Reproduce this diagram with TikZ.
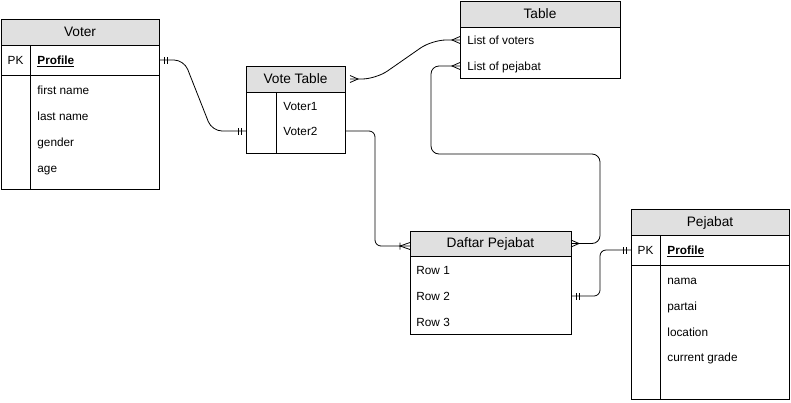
\documentclass[tikz,border=0pt]{standalone}
\usepackage{fontspec}
\setmainfont{Liberation Sans}
\usepackage{tikz}
\usetikzlibrary{calc,decorations.markings}
\usepackage{xcolor}
\definecolor{hdrgray}{HTML}{E0E0E0}

\tikzset{
  hdr/.style={draw, fill=hdrgray, anchor=north west, inner sep=0pt, outer sep=0pt,
    text height=10pt, text depth=1.5pt, font=\fontsize{13.7}{16}\selectfont},
  tblbody/.style={draw, anchor=north west, inner sep=0pt, outer sep=0pt},
  row/.style={anchor=west, inner sep=0pt, text height=11pt, text depth=2.5pt,
    font=\fontsize{11.8}{14}\selectfont},
  pk/.style={row, anchor=center},
  link/.style={line width=0.8pt, rounded corners=6pt},
  mk/.style={line width=0.8pt, sharp corners},
  one at start/.style={postaction={decorate,decoration={markings,
    mark=at position 5pt with {\draw[mk] (0,-3.5pt) -- (0,3.5pt);},
    mark=at position 8pt with {\draw[mk] (0,-3.5pt) -- (0,3.5pt);}}}},
  one at end/.style={postaction={decorate,decoration={markings,
    mark=at position -5pt with {\draw[mk] (0,-3.5pt) -- (0,3.5pt);},
    mark=at position -8pt with {\draw[mk] (0,-3.5pt) -- (0,3.5pt);}}}},
  many at start/.style={postaction={decorate,decoration={markings,
    mark=at position 8pt with {\draw[mk] (-8pt,-3.5pt) -- (0,0) -- (-8pt,3.5pt);}}}},
  many at end/.style={postaction={decorate,decoration={markings,
    mark=at position -8pt with {\draw[mk] (8pt,-3.5pt) -- (0,0) -- (8pt,3.5pt);}}}},
  onemany at end/.style={postaction={decorate,decoration={markings,
    mark=at position -10pt with {\draw[mk] (10pt,-3.5pt) -- (0,0) -- (10pt,3.5pt)
      (0,-3.5pt) -- (0,3.5pt);}}}},
}

\begin{document}
\begin{tikzpicture}[x=1pt,y=-1pt,line width=0.8pt]
  \useasboundingbox (0,0) rectangle (791,402);

  % Voter
  \node[hdr, minimum width=158pt, minimum height=26pt] (voter) at (1,19) {Voter};
  \node[tblbody, minimum width=158pt, minimum height=144pt] (vbody) at (voter.south west) {};
  \draw (1,75) -- (159,75);
  \draw (30.5,45) -- (30.5,189);
  \node[pk] (vpk) at (15.5,60) {PK};
  \node[row] (vprof) at (37,60) {\underline{\textbf{Profile}}};
  \node[row] (vfirst) at (37,90) {first name};
  \node[row] (vlast) at (37,116) {last name};
  \node[row] (vgender) at (37,142) {gender};
  \node[row] (vage) at (37,168) {age};

  % Vote Table
  \node[hdr, minimum width=99pt, minimum height=26pt] (vthead) at (246,66) {Vote Table};
  \node[tblbody, minimum width=99pt, minimum height=61pt] (vtbody) at (vthead.south west) {};
  \draw (276,92) -- (276,153);
  \node[row] (vt1) at (283,106) {Voter1};
  \node[row] (vt2) at (283,131) {Voter2};

  % Table
  \node[hdr, minimum width=160pt, minimum height=26pt] (thead) at (460,1) {Table};
  \node[tblbody, minimum width=160pt, minimum height=51pt] (tbody) at (thead.south west) {};
  \node[row] (lvot) at (467,40) {List of voters};
  \node[row] (lpej) at (467,66) {List of pejabat};

  % Daftar Pejabat
  \node[hdr, minimum width=161pt, minimum height=25pt] (dafhead) at (410,231) {Daftar Pejabat};
  \node[tblbody, minimum width=161pt, minimum height=78pt] (dafbody) at (dafhead.south west) {};
  \node[row] (drow1) at (416,270) {Row 1};
  \node[row] (drow2) at (416,296) {Row 2};
  \node[row] (drow3) at (416,322) {Row 3};

  % Pejabat
  \node[hdr, minimum width=158pt, minimum height=26pt] (pjhead) at (631,209) {Pejabat};
  \node[tblbody, minimum width=158pt, minimum height=164pt] (pjbody) at (pjhead.south west) {};
  \draw (631,265) -- (789,265);
  \draw (660,235) -- (660,399);
  \node[pk] (ppk) at (645.5,250) {PK};
  \node[row] (pprof) at (667,250) {\underline{\textbf{Profile}}};
  \node[row] (pnama) at (667,280) {nama};
  \node[row] (ppartai) at (667,306) {partai};
  \node[row] (ploc) at (667,332) {location};
  \node[row] (pgrade) at (667,357) {current grade};

  % relations
  \draw[link, rounded corners=10pt, one at start, one at end]
    (vbody.east |- vprof) -- (184,60) -- (212,131) -- (vtbody.west |- vt2);
  \draw[link, rounded corners=14pt, many at start, many at end]
    ([xshift=5pt]vthead.east) -- (376,79) -- (432,40) -- (tbody.west |- lvot);
  \draw[link, rounded corners=8pt, many at start, many at end]
    (tbody.west |- lpej) -| (431,154) -| (600,243.5) -- (dafhead.east);
  \draw[link, onemany at end]
    (vtbody.east |- vt2) -| (375,246) -- (dafhead.west |- 0,246);
  \draw[link, one at start, one at end]
    (dafbody.east |- drow2) -| (600,250) -- (pjbody.west |- pprof);
\end{tikzpicture}
\end{document}
